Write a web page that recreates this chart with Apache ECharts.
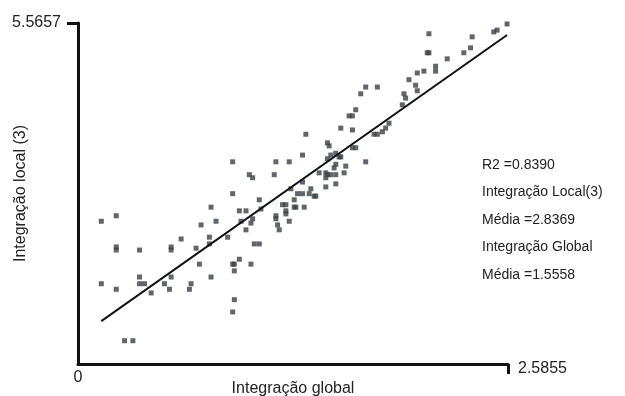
<!DOCTYPE html>
<html>
<head>
<meta charset="utf-8">
<script src="https://cdn.jsdelivr.net/npm/echarts@6/dist/echarts.min.js"></script>
<style>
  html, body { margin: 0; padding: 0; background: #fff; }
  #scatterChart { width: 625px; height: 396px; }
</style>
</head>
<body>
<div id="scatterChart"></div>
<script>

// scatter: integração global x integração local (3)

var globalInt = [
    0.14, 0.23, 0.23, 0.23, 0.14, 0.23, 0.28, 0.33, 0.37, 0.37,
    0.37, 0.40, 0.44, 0.52, 0.55, 0.56, 0.56, 0.56, 0.62, 0.67,
    0.68, 0.71, 0.73, 0.74, 0.79, 0.79, 0.80, 0.80, 0.83, 0.90,
    0.93, 0.93, 0.93, 0.94, 0.94, 0.94, 0.93, 0.97, 1.01, 0.97,
    0.98, 1.01, 1.03, 1.05, 1.04, 1.05, 1.04, 1.06, 1.09, 1.09,
    1.10, 1.18, 1.19, 1.19, 1.19, 1.20, 1.21, 1.23, 1.25, 1.25,
    1.25, 1.27, 1.27, 1.28, 1.30, 1.30, 1.31, 1.32, 1.35, 1.35,
    1.35, 1.36, 1.37, 1.39, 1.40, 1.42, 1.43, 1.45, 1.49, 1.49,
    1.49, 1.50, 1.50, 1.50, 1.51, 1.52, 1.52, 1.55, 1.55, 1.55,
    1.55, 1.54, 1.57, 1.58, 1.60, 1.61, 1.58, 1.63, 1.65, 1.65,
    1.65, 1.67, 1.67, 1.70, 1.73, 1.80, 1.73, 1.78, 1.80, 1.83,
    1.85, 1.87, 1.95, 1.96, 1.97, 1.99, 2.03, 2.04, 2.04, 2.08,
    2.10, 2.11, 2.11, 2.15, 2.15, 2.22, 2.32, 2.36, 2.37, 2.50,
    2.52, 2.58
];

var localInt = [
    2.33, 2.42, 1.91, 1.86, 1.31, 1.22, 0.38, 0.38, 1.86, 1.42,
    1.31, 1.31, 1.16, 1.31, 1.22, 1.91, 1.86, 1.42, 2.04, 1.22,
    1.31, 1.89, 1.63, 2.27, 2.07, 1.96, 2.56, 1.42, 2.33, 2.07,
    3.30, 2.78, 1.63, 1.63, 1.52, 1.05, 0.85, 2.50, 2.50, 1.71,
    2.33, 2.19, 3.09, 3.04, 2.30, 2.37, 1.63, 1.96, 1.96, 2.68,
    2.53, 3.09, 3.30, 2.42, 2.37, 2.27, 2.19, 2.60, 2.60, 2.50,
    2.45, 3.30, 2.33, 2.86, 2.68, 2.56, 2.56, 2.78, 2.78, 3.41,
    2.97, 2.56, 3.75, 2.78, 2.86, 2.74, 2.74, 3.12, 3.04, 2.89,
    3.12, 3.09, 3.35, 3.61, 3.56, 3.41, 3.09, 3.09, 3.44, 3.26,
    2.94, 3.20, 3.38, 3.38, 3.12, 3.23, 3.85, 4.05, 4.05, 3.82,
    3.53, 3.53, 4.15, 4.41, 4.52, 4.52, 3.30, 3.75, 3.75, 3.79,
    3.85, 3.93, 4.23, 4.41, 4.34, 4.64, 4.55, 4.46, 4.75, 4.78,
    5.08, 5.08, 5.39, 4.86, 4.78, 4.98, 5.08, 5.16, 5.34, 5.42,
    5.45, 5.55
];

// regression line end points
var fitX = [0.14, 2.58];
var fitY = [0.70, 5.37];

var xMin = 0;
var xMax = 2.5855;
var yMin = 0;
var yMax = 5.5657;

var statLines = [
    'R2 =0.8390',
    'Integração Local(3)',
    'Média =2.8369',
    'Integração Global',
    'Média =1.5558'
];

var points = globalInt.map(function (x, i) {
    return [x, localInt[i]];
});
var fitLine = fitX.map(function (x, i) {
    return [x, fitY[i]];
});

var font = '"Liberation Sans", Arial, sans-serif';

var myChart = echarts.init(document.getElementById('scatterChart'));

var option = {
    animation: false,
    grid: {
        left: 78,
        right: 117,
        top: 23,
        bottom: 32,
        containLabel: false,
        outerBoundsMode: 'none'
    },
    xAxis: {
        type: 'value',
        min: xMin,
        max: xMax,
        name: 'Integração global',
        nameLocation: 'middle',
        nameGap: 17,
        nameMoveOverlap: false,
        nameTextStyle: { color: '#222', fontSize: 16, fontFamily: font, verticalAlign: 'top' },
        splitLine: { show: false },
        axisLine: { onZero: false, lineStyle: { color: '#111', width: 3 } },
        axisTick: {
            show: true,
            length: 10,
            customValues: [xMax],
            lineStyle: { color: '#111', width: 3 }
        },
        axisLabel: {
            customValues: [xMin],
            margin: 6,
            color: '#222',
            fontSize: 16,
            fontFamily: font,
            formatter: function (v) { return String(v); }
        }
    },
    yAxis: {
        type: 'value',
        min: yMin,
        max: yMax,
        name: 'Integração local (3)',
        nameLocation: 'middle',
        nameGap: 49,
        nameRotate: 90,
        nameMoveOverlap: false,
        nameTextStyle: { color: '#222', fontSize: 16, fontFamily: font },
        splitLine: { show: false },
        axisLine: { onZero: false, lineStyle: { color: '#111', width: 3 } },
        axisTick: {
            show: true,
            length: 11,
            customValues: [yMax],
            lineStyle: { color: '#111', width: 3 }
        },
        axisLabel: {
            customValues: [yMax],
            margin: 17,
            color: '#222',
            fontSize: 16,
            fontFamily: font,
            formatter: function (v) { return String(v); }
        }
    },
    graphic: [
        {
            type: 'text',
            left: 518,
            top: 361,
            style: {
                text: String(xMax),
                fill: '#222',
                font: '16px ' + font
            }
        },
        {
            type: 'text',
            left: 482,
            top: 151,
            style: {
                text: statLines.join('\n'),
                fill: '#222',
                font: '14px ' + font,
                lineHeight: 27.5
            }
        }
    ],
    series: [
        {
            name: 'pontos',
            type: 'scatter',
            symbol: 'rect',
            symbolSize: 5,
            itemStyle: { color: '#3b4045' },
            data: points
        },
        {
            name: 'regressão',
            type: 'line',
            data: fitLine,
            symbol: 'none',
            lineStyle: { color: '#111', width: 2 }
        }
    ]
};

myChart.setOption(option);

window.addEventListener('resize', function() {
    myChart.resize();
});

</script>
</body>
</html>
